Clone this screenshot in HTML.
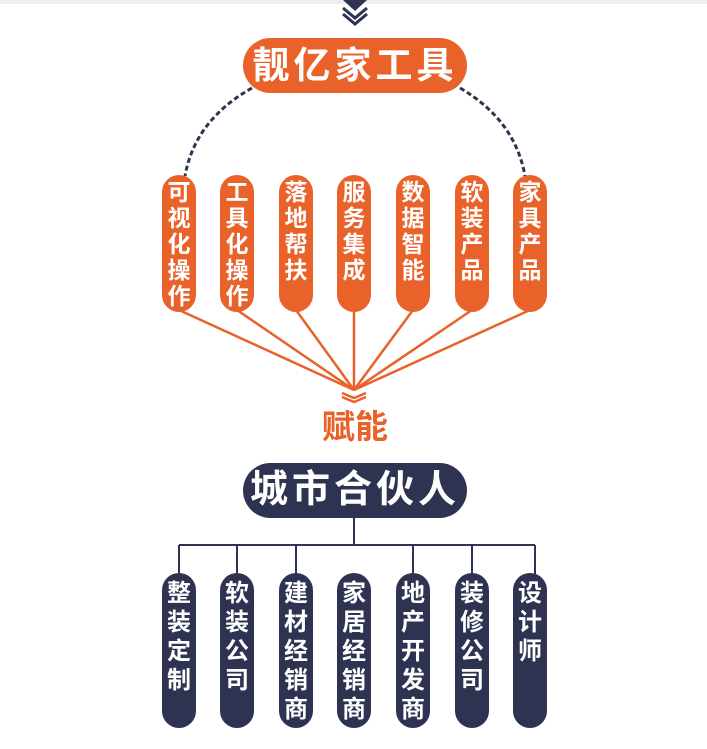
<!DOCTYPE html>
<html><head><meta charset="utf-8"><style>
html,body{margin:0;padding:0;width:707px;height:749px;background:#fff;overflow:hidden;position:relative;font-family:"Liberation Sans","Noto Sans CJK SC",sans-serif}
.pill{position:absolute;border-radius:17px;color:#fff;font-weight:bold;font-size:23px;line-height:26px;text-align:center;width:34px;box-sizing:border-box;padding-top:4px}
.o{background:#e8622a}
.n{background:#2e3352;font-size:24px;line-height:29px;padding-top:6px}
.big{position:absolute;left:243px;width:224px;height:55px;border-radius:28px;color:#fff;font-weight:bold;font-size:37px;line-height:55px;text-align:center;letter-spacing:4px}
</style></head><body>
<div style="position:absolute;left:0;top:0;width:707px;height:4px;background:#eeeef0"></div>
<svg width="707" height="749" style="position:absolute;left:0;top:0">
<polygon points="343,0 367,0 355,11" fill="#2e3352"/>
<polyline points="343,8 355,18 367,8" fill="none" stroke="#2e3352" stroke-width="3"/>
<polyline points="343,14 355,24 367,14" fill="none" stroke="#2e3352" stroke-width="3"/>
<path d="M252,88 Q195,120 185,176" fill="none" stroke="#2e3352" stroke-width="3" stroke-dasharray="5,3"/>
<path d="M460,88 Q515,120 525,176" fill="none" stroke="#2e3352" stroke-width="3" stroke-dasharray="5,3"/>
<g stroke="#e8622a" stroke-width="2.5" fill="none">
<line x1="179" y1="310" x2="354" y2="390"/>
<line x1="237" y1="310" x2="354" y2="390"/>
<line x1="296" y1="310" x2="354" y2="390"/>
<line x1="354" y1="310" x2="354" y2="390"/>
<line x1="413" y1="310" x2="354" y2="390"/>
<line x1="472" y1="310" x2="354" y2="390"/>
<line x1="530" y1="310" x2="354" y2="390"/>
<polyline points="342,393 354,398 366,393"/>
<polyline points="342,397 354,402 366,397"/>
</g>
<g stroke="#2e3352" stroke-width="2" fill="none">
<line x1="354" y1="518" x2="354" y2="545"/>
<line x1="179" y1="545" x2="535" y2="545"/>
<line x1="179" y1="545" x2="179" y2="574"/>
<line x1="237" y1="545" x2="237" y2="574"/>
<line x1="296" y1="545" x2="296" y2="574"/>
<line x1="413" y1="545" x2="413" y2="574"/>
<line x1="472" y1="545" x2="472" y2="574"/>
<line x1="535" y1="545" x2="535" y2="574"/>
</g>
</svg>
<div class="big o" style="top:38px">靓亿家工具</div>
<div class="pill o" style="left:162px;top:175px;height:137px">可<br>视<br>化<br>操<br>作</div>
<div class="pill o" style="left:220px;top:175px;height:137px">工<br>具<br>化<br>操<br>作</div>
<div class="pill o" style="left:279px;top:175px;height:137px">落<br>地<br>帮<br>扶</div>
<div class="pill o" style="left:337px;top:175px;height:137px">服<br>务<br>集<br>成</div>
<div class="pill o" style="left:396px;top:175px;height:137px">数<br>据<br>智<br>能</div>
<div class="pill o" style="left:455px;top:175px;height:137px">软<br>装<br>产<br>品</div>
<div class="pill o" style="left:513px;top:175px;height:137px">家<br>具<br>产<br>品</div>
<div style="position:absolute;left:300px;top:406px;width:110px;text-align:center;color:#e8622a;font-weight:bold;font-size:33px;line-height:42px">赋能</div>
<div class="big n" style="top:463px;font-size:38px;line-height:55px;padding:0">城市合伙人</div>
<div class="pill n" style="left:162px;top:573px;height:155px">整<br>装<br>定<br>制</div>
<div class="pill n" style="left:220px;top:573px;height:155px">软<br>装<br>公<br>司</div>
<div class="pill n" style="left:279px;top:573px;height:155px">建<br>材<br>经<br>销<br>商</div>
<div class="pill n" style="left:337px;top:573px;height:155px">家<br>居<br>经<br>销<br>商</div>
<div class="pill n" style="left:396px;top:573px;height:155px">地<br>产<br>开<br>发<br>商</div>
<div class="pill n" style="left:455px;top:573px;height:155px">装<br>修<br>公<br>司</div>
<div class="pill n" style="left:513px;top:573px;height:155px">设<br>计<br>师</div>
</body></html>
